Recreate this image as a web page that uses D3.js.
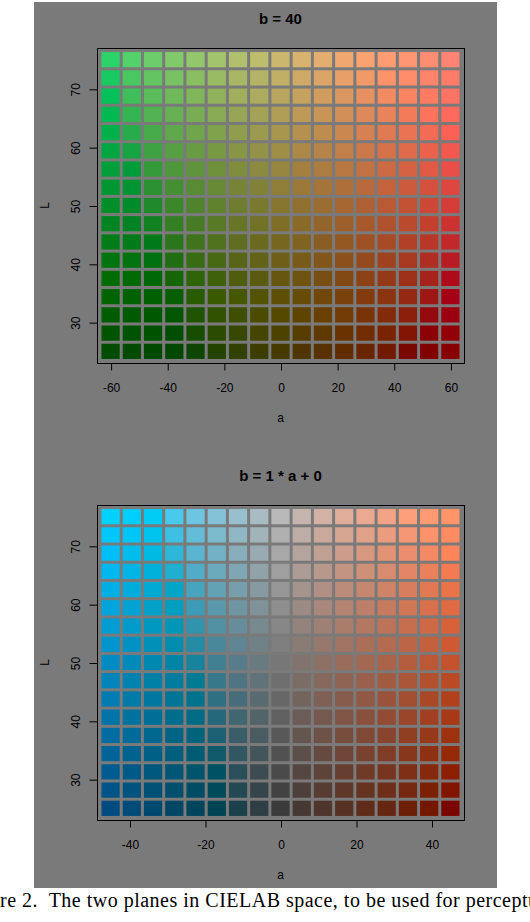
<!DOCTYPE html>
<html>
<head>
<meta charset="utf-8">
<script src="https://cdn.jsdelivr.net/npm/d3@7"></script>
<style>
  html, body { margin: 0; padding: 0; background: #fff; }
  svg { display: block; }
</style>
</head>
<body>
<div id="chart"></div>
<script>
// Grid values (L rows shared by both planes)
const lValues = [25, 28.125, 31.25, 34.375, 37.5, 40.625, 43.75, 46.875, 50,
  53.125, 56.25, 59.375, 62.5, 65.625, 68.75, 71.875, 75];

// Plane 1: b fixed at 40
const aValuesTop = [-60, -52.5, -45, -37.5, -30, -22.5, -15, -7.5, 0,
  7.5, 15, 22.5, 30, 37.5, 45, 52.5, 60];
const bFixedTop = 40;

// Plane 2: b = 1 * a + 0
const aValuesBottom = [-45, -39.375, -33.75, -28.125, -22.5, -16.875, -11.25, -5.625, 0,
  5.625, 11.25, 16.875, 22.5, 28.125, 33.75, 39.375, 45];
const bSlope = 1;
const bIntercept = 0;

// Tick labels
const xTicksTop = [-60, -40, -20, 0, 20, 40, 60];
const xTicksBottom = [-40, -20, 0, 20, 40];
const yTicks = [30, 40, 50, 60, 70];

const titles = ['b = 40', 'b = 1 * a + 0'];
const captionHidden = 'Figu';
const captionShown = 're 2.  The two planes in CIELAB space, to be used for percept';
const captionRest = 'ual color selection';

const W = 530, H = 922;
const BG = '#7a7a7a';
const FONT = '"Liberation Sans", Arial, Helvetica, sans-serif';

const svg = d3.select('#chart').append('svg')
  .attr('width', W)
  .attr('height', H);

svg.append('rect').attr('width', W).attr('height', H).attr('fill', '#fff');

// gray figure background
svg.append('rect')
  .attr('x', 34).attr('y', 2)
  .attr('width', 463).attr('height', 886)
  .attr('fill', BG);

// R style axis range: extend by 4% each side
function padded(lo, hi) {
  const d = (hi - lo) * 0.04;
  return [lo - d, hi + d];
}

function drawPanel(offsetY, aValues, bOf, xTicks, title) {
  const box = { left: 97, right: 464, top: 48 + offsetY, bottom: 363 + offsetY };
  const g = svg.append('g');

  const x = d3.scaleLinear()
    .domain(padded(d3.min(aValues), d3.max(aValues)))
    .range([box.left, box.right]);
  const y = d3.scaleLinear()
    .domain(padded(d3.min(lValues), d3.max(lValues)))
    .range([box.bottom, box.top]);

  const aStep = aValues[1] - aValues[0];
  const lStep = lValues[1] - lValues[0];
  const gap = 3;

  const cells = [];
  lValues.forEach(L => aValues.forEach(a => cells.push({ L, a, b: bOf(a) })));

  g.append('g')
    .selectAll('rect')
    .data(cells)
    .enter()
    .append('rect')
    .attr('x', d => x(d.a - aStep / 2) + gap / 2)
    .attr('y', d => y(d.L + lStep / 2) + gap / 2)
    .attr('width', x(aStep) - x(0) - gap)
    .attr('height', y(0) - y(lStep) - gap)
    .attr('fill', d => d3.lab(d.L, d.a, d.b).formatHex());

  // box
  g.append('rect')
    .attr('x', box.left + 0.5).attr('y', box.top + 0.5)
    .attr('width', box.right - box.left).attr('height', box.bottom - box.top)
    .attr('fill', 'none')
    .attr('stroke', '#000')
    .attr('stroke-width', 1);

  // x axis (plain hyphen minus like R)
  const xAxis = g.append('g')
    .attr('transform', `translate(0.5,${box.bottom + 0.5})`)
    .call(d3.axisBottom(x).tickValues(xTicks).tickSize(7).tickPadding(12.5).tickFormat(d => String(d)));
  xAxis.select('.domain').remove();
  xAxis.selectAll('text')
    .attr('font-family', FONT).attr('font-size', 12).attr('fill', '#000');
  xAxis.selectAll('line').attr('stroke', '#000');

  // y axis
  const yAxis = g.append('g')
    .attr('transform', `translate(${box.left + 0.5},0.5)`)
    .call(d3.axisLeft(y).tickValues(yTicks).tickSize(8).tickFormat(d => String(d)));
  yAxis.select('.domain').remove();
  yAxis.selectAll('line').attr('stroke', '#000');
  yAxis.selectAll('text')
    .attr('x', null).attr('dy', null)
    .attr('text-anchor', 'middle')
    .attr('transform', 'translate(-18,0) rotate(-90)')
    .attr('font-family', FONT).attr('font-size', 12).attr('fill', '#000');

  // axis titles
  g.append('text')
    .attr('x', (box.left + box.right) / 2)
    .attr('y', 422 + offsetY)
    .attr('text-anchor', 'middle')
    .attr('font-family', FONT).attr('font-size', 12)
    .text('a');

  g.append('text')
    .attr('transform', `translate(48.5,${(box.top + box.bottom) / 2}) rotate(-90)`)
    .attr('text-anchor', 'middle')
    .attr('font-family', FONT).attr('font-size', 12)
    .text('L');

  // title
  g.append('text')
    .attr('x', (box.left + box.right) / 2)
    .attr('y', 23.5 + offsetY)
    .attr('text-anchor', 'middle')
    .attr('font-family', FONT).attr('font-size', 15).attr('font-weight', 'bold')
    .text(title);
}

drawPanel(0, aValuesTop, () => bFixedTop, xTicksTop, titles[0]);
drawPanel(457, aValuesBottom, a => bSlope * a + bIntercept, xTicksBottom, titles[1]);

// caption, cropped at both sides like the scan
const cap = svg.append('text')
  .attr('y', 906.5)
  .attr('font-family', '"Liberation Serif", "Times New Roman", Times, serif')
  .attr('font-size', 20)
  .attr('fill', '#000')
  .attr('xml:space', 'preserve')
  .style('white-space', 'pre');
cap.append('tspan').text(captionHidden);
const shown = cap.append('tspan').text(captionShown);
cap.append('tspan').text(captionRest);

// stretch the visible part to the scan's width
const target = 528;
const natural = shown.node().getComputedTextLength();
const spacing = (target - natural) / captionShown.length;
cap.style('letter-spacing', spacing + 'px');
const full = cap.node().textContent;
const cut = cap.node().getSubStringLength(0, captionHidden.length);
cap.attr('x', -cut);
</script>
</body>
</html>
